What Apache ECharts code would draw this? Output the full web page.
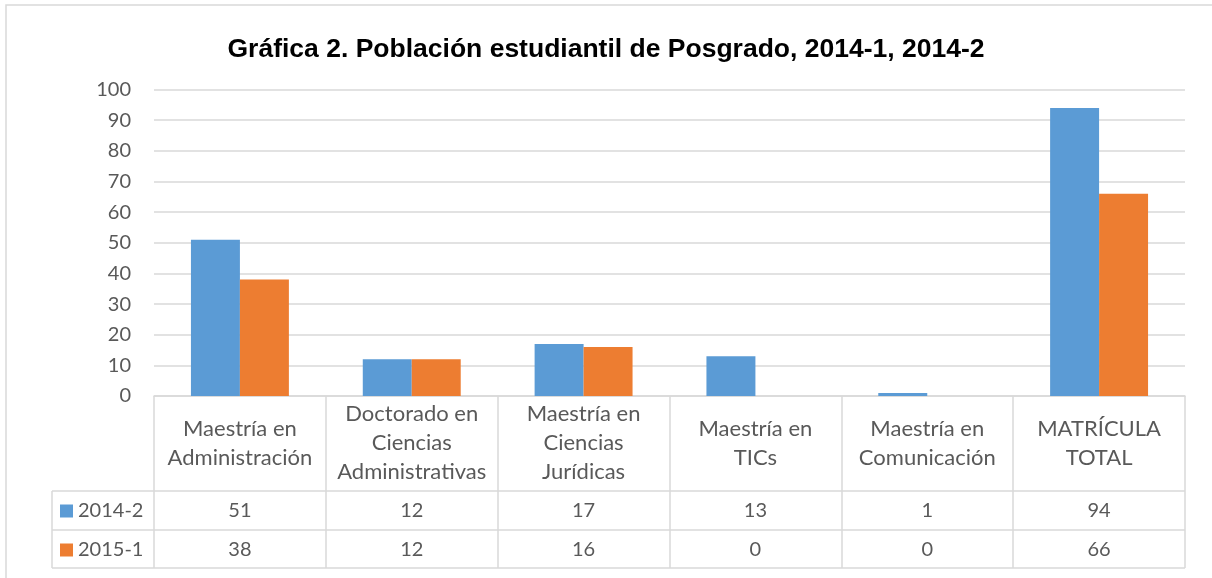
<!DOCTYPE html>
<html>
<head>
<meta charset="utf-8">
<script src="https://cdn.jsdelivr.net/npm/echarts@6/dist/echarts.min.js"></script>
<style>
  html, body { margin: 0; padding: 0; background: #fff; }
  #chart { width: 1212px; height: 578px; }
</style>
</head>
<body>
<div id="chart"></div>
<script>
const TITLE = "Gráfica 2. Población estudiantil de Posgrado, 2014-1, 2014-2";
const CATEGORIES = [
  "Maestría en\nAdministración",
  "Doctorado en\nCiencias\nAdministrativas",
  "Maestría en\nCiencias\nJurídicas",
  "Maestría en\nTICs",
  "Maestría en\nComunicación",
  "MATRÍCULA\nTOTAL"
];
const SERIES_NAMES = ["2014-2", "2015-1"];
const VALUES_2014_2 = [51, 12, 17, 13, 1, 94];
const VALUES_2015_1 = [38, 12, 16, 0, 0, 66];
const COLORS = ["#5b9bd5", "#ed7d31"];

const GRID_LEFT = 154;
const GRID_RIGHT = 1185;
const GRID_TOP = 89.5;
const AXIS_Y = 396;
const HEADER_BOTTOM = 491;
const ROW1_BOTTOM = 530;
const ROW2_BOTTOM = 568;
const TABLE_LEFT = 52;
const LINE = "#d9d9d9";
const TEXT = "#595959";
const FONT = "Lato, 'Liberation Sans', sans-serif";

const chart = echarts.init(document.getElementById("chart"));

chart.setOption({
  animation: false,
  title: {
    text: TITLE,
    left: "center",
    top: 31,
    textStyle: { fontFamily: "'Liberation Sans', Arial", fontWeight: "bold", fontSize: 26.5, color: "#000" }
  },
  legend: {
    orient: "vertical",
    left: 60,
    top: 500,
    padding: 0,
    itemWidth: 13,
    itemHeight: 13,
    itemGap: 17,
    icon: "rect",
    data: SERIES_NAMES,
    textStyle: { fontFamily: FONT, fontSize: 20, color: TEXT, lineHeight: 22 }
  },
  grid: {
    left: GRID_LEFT,
    right: 1212 - GRID_RIGHT,
    top: GRID_TOP,
    bottom: 578 - AXIS_Y
  },
  xAxis: {
    type: "category",
    data: CATEGORIES,
    axisLine: { lineStyle: { color: LINE, width: 1.5 } },
    axisTick: {
      show: true,
      inside: false,
      length: ROW2_BOTTOM - AXIS_Y,
      lineStyle: { color: LINE, width: 1.5 }
    },
    axisLabel: {
      interval: 0,
      margin: 47,
      verticalAlign: "middle",
      fontFamily: FONT,
      fontSize: 22,
      lineHeight: 29,
      color: TEXT
    }
  },
  yAxis: {
    type: "value",
    min: 0,
    max: 100,
    interval: 10,
    axisLine: { show: false },
    axisTick: { show: false },
    axisLabel: { margin: 23, fontFamily: FONT, fontSize: 20, color: TEXT },
    splitLine: { lineStyle: { color: LINE, width: 1.5 } }
  },
  series: [
    {
      name: SERIES_NAMES[0],
      type: "bar",
      data: VALUES_2014_2,
      barGap: "0%",
      barCategoryGap: "43%",
      itemStyle: { color: COLORS[0] }
    },
    {
      name: SERIES_NAMES[1],
      type: "bar",
      data: VALUES_2015_1,
      itemStyle: { color: COLORS[1] }
    }
  ]
});

// data table lines and values, placed with the category axis
const rows = [VALUES_2014_2, VALUES_2015_1];
const rowTops = [HEADER_BOTTOM, ROW1_BOTTOM];
const rowBottoms = [ROW1_BOTTOM, ROW2_BOTTOM];
const elements = [
  { type: "rect", shape: { x: 6, y: 5, width: 1230, height: 600 }, style: { fill: null, stroke: LINE, lineWidth: 1.5 }, silent: true }
];
[HEADER_BOTTOM, ROW1_BOTTOM, ROW2_BOTTOM].forEach((y) => {
  elements.push({ type: "line", shape: { x1: TABLE_LEFT, y1: y, x2: GRID_RIGHT, y2: y }, style: { stroke: LINE, lineWidth: 1.5 } });
});
elements.push({ type: "line", shape: { x1: TABLE_LEFT, y1: HEADER_BOTTOM, x2: TABLE_LEFT, y2: ROW2_BOTTOM }, style: { stroke: LINE, lineWidth: 1.5 } });

rows.forEach((values, r) => {
  values.forEach((v, i) => {
    const x = chart.convertToPixel({ xAxisIndex: 0 }, i);
    elements.push({
      type: "text",
      x: x,
      y: (rowTops[r] + rowBottoms[r]) / 2 + 0.5,
      style: { text: String(v), align: "center", verticalAlign: "middle", fontFamily: FONT, fontSize: 20, fill: TEXT }
    });
  });
});

chart.setOption({ graphic: { elements } });
</script>
</body>
</html>
